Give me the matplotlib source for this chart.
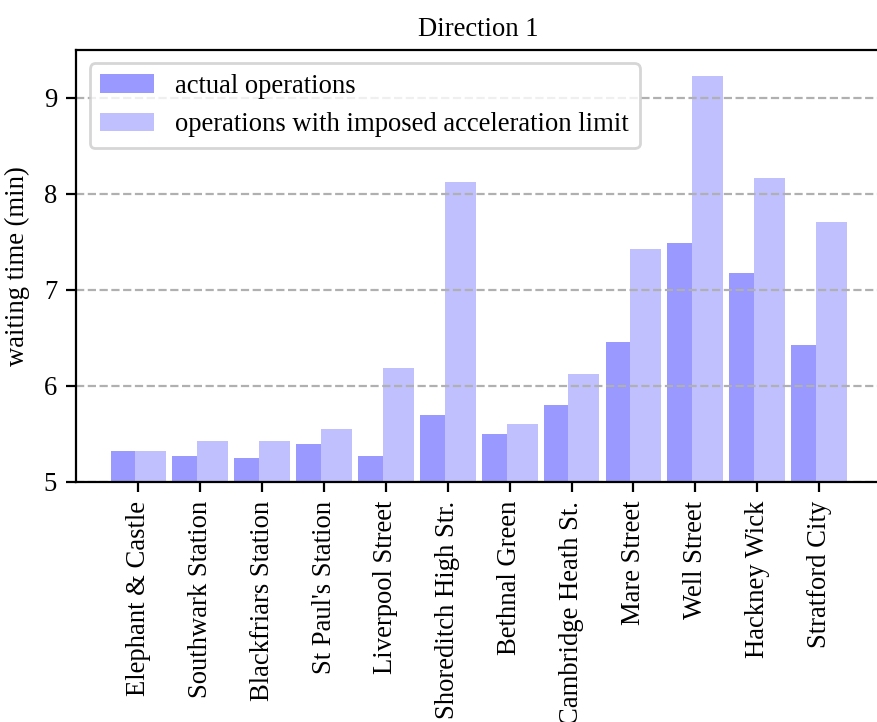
import numpy as np
import matplotlib
matplotlib.use('Agg')
from matplotlib import pyplot as plt

plt.rcParams['font.family'] = ['Liberation Serif', 'DejaVu Serif']
plt.rcParams['font.size'] = 9.6

stations = ['Elephant & Castle', 'Southwark Station', 'Blackfriars Station',
            "St Paul's Station", 'Liverpool Street', 'Shoreditch High Str.',
            'Bethnal Green', 'Cambridge Heath St.', 'Mare Street',
            'Well Street', 'Hackney Wick', 'Stratford City']

actual = [5.32, 5.27, 5.25, 5.39, 5.27, 5.69, 5.50, 5.80, 6.45, 7.49, 7.17, 6.42]
limited = [5.32, 5.42, 5.42, 5.55, 6.18, 8.12, 5.60, 6.12, 7.42, 9.23, 8.17, 7.71]

x = np.arange(len(stations))

fig = plt.figure(figsize=(4.39, 3.61), dpi=200)
ax = fig.add_axes([0.0871, 0.3331, 0.9163, 0.5976])

ax.bar(x - 0.2, actual, 0.5, color='#9999ff', label='actual operations')
ax.bar(x + 0.2, limited, 0.5, color='#c0c0ff',
       label='operations with imposed acceleration limit')

ax.set_xticks(x)
ax.set_xticklabels(stations, rotation=90)
ax.set_xlim(-1.0, 12.0)
ax.set_ylim(5, 9.5)
ax.set_yticks([5, 6, 7, 8, 9])
ax.yaxis.grid(True, linestyle='--')
ax.set_ylabel('waiting time (min)', labelpad=5)
ax.set_title('Direction 1', fontsize=9.6, pad=5)
ax.legend(loc='upper left')

fig.savefig('out.png', dpi=200)
